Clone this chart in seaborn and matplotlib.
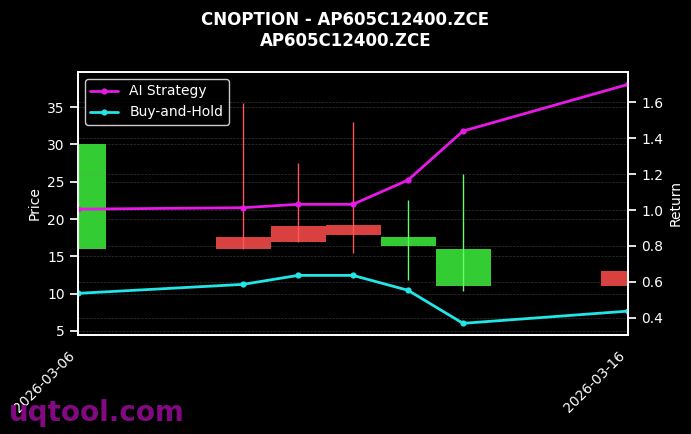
import pandas as pd
import numpy as np
import matplotlib
matplotlib.use("Agg")
import matplotlib.pyplot as plt
import matplotlib.dates as mdates
import seaborn as sns

# --- DADES (llegides del gràfic) ---
dates = ["2026-03-06", "2026-03-09", "2026-03-10", "2026-03-11",
         "2026-03-12", "2026-03-13", "2026-03-16"]
open_px = [16.0, 17.6, 19.1, 19.15, 16.4, 11.0, 13.0]
close_px = [30.0, 16.0, 16.95, 17.9, 17.6, 16.0, 11.0]
high_px = [30.0, 35.6, 27.5, 33.0, 22.5, 26.0, 13.0]
low_px = [16.0, 16.0, 16.95, 15.5, 11.8, 10.4, 11.0]
ai_return = [1.005, 1.013, 1.032, 1.032, 1.167, 1.44, 1.70]
bh_return = [0.536, 0.586, 0.636, 0.636, 0.553, 0.369, 0.437]

df = pd.DataFrame({
    "date": pd.to_datetime(dates),
    "open": open_px, "close": close_px,
    "high": high_px, "low": low_px,
    "ai": ai_return, "bh": bh_return,
})

sns.set_theme(style="dark")
plt.style.use("dark_background")
plt.rcParams["font.family"] = ["DejaVu Sans"]

fig = plt.figure(figsize=(6.91, 4.34), dpi=100)
ax = fig.add_axes([78 / 691, 99 / 434, 550 / 691, 263 / 434])
ax.set_facecolor("black")
ax2 = ax.twinx()

# --- Espelmes ---
up = df["close"] >= df["open"]
body_col = np.where(up, "#33cc33", "#d94040")
wick_col = np.where(up, "#66ff66", "#ff5555")
x = mdates.date2num(df["date"])
bottoms = np.minimum(df["open"], df["close"])
heights = np.abs(df["close"] - df["open"])
ax.bar(x, heights, bottom=bottoms, width=1.0, color=body_col,
       edgecolor="none", linewidth=0, zorder=2)
ax.vlines(x, df["low"], df["high"], colors=wick_col, linewidth=1.0, zorder=3)

# --- Línies de rendiment ---
sns.lineplot(data=df, x="date", y="ai", ax=ax2, color="#e619e6", linewidth=2,
             marker="o", markersize=4.5, markeredgewidth=0, label="AI Strategy")
sns.lineplot(data=df, x="date", y="bh", ax=ax2, color="#22e5e5", linewidth=2,
             marker="o", markersize=4.5, markeredgewidth=0, label="Buy-and-Hold")

ax.set_xlim(x[0], x[-1])
ax.set_ylim(4.46, 39.7)
ax2.set_ylim(0.304, 1.769)
ax.set_yticks([5, 10, 15, 20, 25, 30, 35])
ax2.set_yticks([0.4, 0.6, 0.8, 1.0, 1.2, 1.4, 1.6])

ax.set_xticks([x[0], x[-1]])
ax.xaxis.set_major_formatter(mdates.DateFormatter("%Y-%m-%d"))
plt.setp(ax.get_xticklabels(), rotation=45, ha="right")
ax.set_xlabel("")
ax2.set_xlabel("")
ax.set_ylabel("Price", color="white", fontsize=10)
ax2.set_ylabel("Return", color="white", fontsize=10)

for a in (ax, ax2):
    a.grid(True, axis="y", linestyle="--", linewidth=0.5, color="gray", alpha=0.4)
    a.tick_params(colors="white", labelsize=10)
    for s in a.spines.values():
        s.set_color("white")
ax.set_axisbelow(True)

leg = ax2.legend(loc="upper left", facecolor="black", edgecolor="white",
                 labelcolor="white", fontsize=10)

fig.suptitle("CNOPTION - AP605C12400.ZCE\nAP605C12400.ZCE", color="white",
             fontsize=12, fontweight="bold", y=0.975)
fig.text(0.013, 0.03, "uqtool.com", color="#8a0a8a", fontsize=20,
         fontweight="bold", alpha=0.95)

fig.savefig("out.png", dpi=100, facecolor="black")
